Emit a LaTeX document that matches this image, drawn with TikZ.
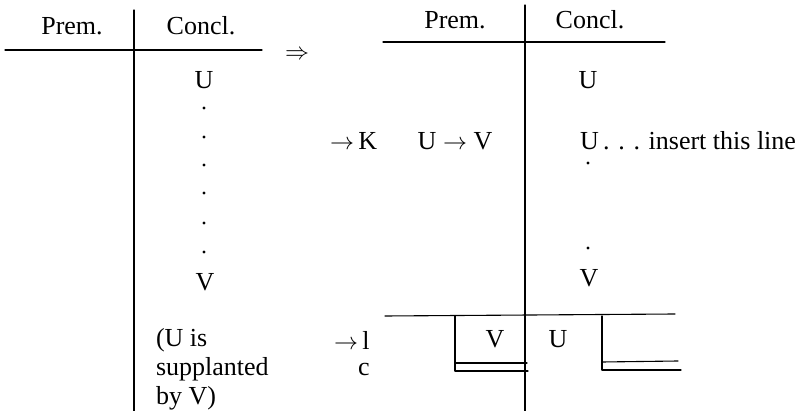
\documentclass[tikz,border=0pt]{standalone}
\usepackage{fontspec}
\setmainfont{Liberation Serif}
\begin{document}
\begin{tikzpicture}[x=0.5pt,y=-0.5pt, font=\fontsize{13}{14.5}\selectfont, line join=round, line cap=round]
	\tikzset{rule/.style={line width=0.55pt}, dot/.style={circle, fill, inner sep=0pt, minimum size=1.6pt}}
	\useasboundingbox (0,0) rectangle (798,411);
	% left table
	\draw[rule] (5,50)--(262,50);
	\draw[rule] (134,10)--(134,411);
	\node (lprem) at (72,26) {Prem.};
	\node (lconc) at (201,26) {Concl.};
	\node (lu) at (204,80) {U};
	\foreach \y in {108,137,165,193,223,252} \node[dot] at (204,\y) {};
	\node (lv) at (205,282) {V};
	\node[align=left, anchor=west] (note) at (149,369) {(U is\\supplanted\\by V)};
	% middle
	\node (imp) at (297,55) {$\Rightarrow$};
	\node[anchor=west] (rk) at (323,141) {$\rightarrow$\,K};
	\node[anchor=west] (ri) at (327,340) {$\rightarrow$\,l};
	\node (rc) at (364,370) {c};
	% right table
	\draw[rule] (383,42)--(665,42);
	\draw[rule] (525,5)--(525,411);
	\node (rprem) at (455,20) {Prem.};
	\node (rconc) at (590,20) {Concl.};
	\node (ru) at (588,80) {U};
	\node (uv) at (455,141) {U $\rightarrow$ V};
	\node[anchor=west] (ins) at (573,141) {U\,.\,\,.\,\,.\,\,insert this line};
	\node[dot] at (588,163) {};
	\node[dot] at (588,248) {};
	\node (rv) at (589,278) {V};
	% lower part
	\draw[rule] (385,316)--(675,314);
	\node (bv) at (495,339) {V};
	\node (bu) at (558,339) {U};
	\draw[rule] (455,316)--(455,371)--(528,371);
	\draw[rule] (455,363)--(527,363);
	\draw[rule] (602,316)--(602,370)--(681,370);
	\draw[rule] (602,362)--(678,361);
\end{tikzpicture}
\end{document}
